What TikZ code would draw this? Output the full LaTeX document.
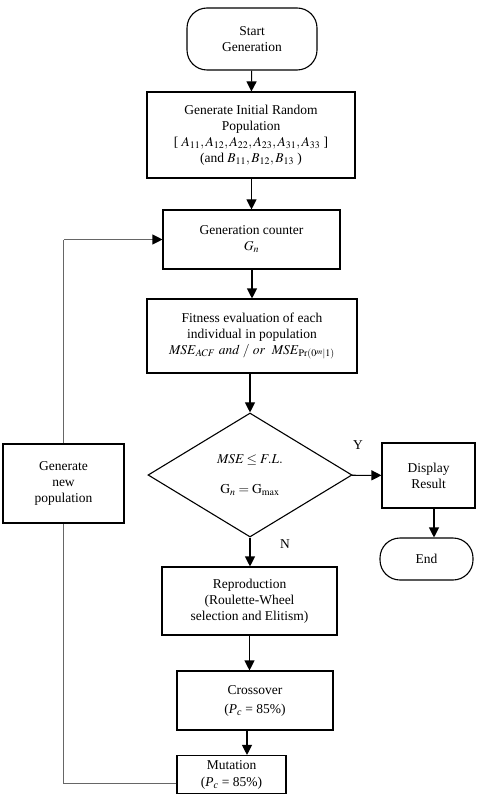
\documentclass[tikz,border=0pt]{standalone}
\usepackage{mathptmx}
\usepackage{fontspec}
\setmainfont{Liberation Serif}
\usetikzlibrary{shapes.geometric, arrows.meta}

\begin{document}
\begin{tikzpicture}[
  x=1pt, y=-1pt,
  every node/.style={align=center, inner sep=0pt, font=\fontsize{13.5}{16}\selectfont},
  box/.style={draw, rectangle, line width=1.1pt},
  term/.style={draw, rectangle, rounded corners=20pt, line width=1.1pt},
  cond/.style={draw, diamond, line width=1.1pt},
  arrow/.style={-{Triangle[length=10pt, width=10pt]}, line width=1.1pt},
  back/.style={line width=1.1pt, draw=black!60}
]
\useasboundingbox (0,0) rectangle (480,810);
\node[term, minimum width=130pt, minimum height=62pt] (start) at (252,39) {Start\\Generation};
\node[box, minimum width=208pt, minimum height=86pt] (init) at (251,135) {Generate Initial Random\\Population\\{[} $A_{11}, A_{12}, A_{22}, A_{23}, A_{31}, A_{33}$ {]}\\(and $B_{11}, B_{12}, B_{13}$ )};
\node[box, minimum width=177pt, minimum height=59pt] (gen) at (251.5,239.5) {Generation counter\\$G_n$};
\node[box, minimum width=210pt, minimum height=74pt] (fit) at (252,336) {Fitness evaluation of each\\individual in population\\$\mathit{MSE}_{ACF}\ \mathit{and}\ /\ \mathit{or}\ \ \mathit{MSE}_{\mathrm{Pr}(0^{m}|1)}$};
\node[cond, minimum width=204pt, minimum height=124pt] (dec) at (250,475) {$\mathit{MSE} \le F.L.$\\[14pt]$\mathrm{G}_n = \mathrm{G}_{\max}$};
\node[box, minimum width=93pt, minimum height=65pt] (disp) at (428.5,475.5) {Display\\Result};
\node[term, minimum width=93pt, minimum height=42pt] (end) at (426.5,559) {End};
\node[box, minimum width=175pt, minimum height=68pt] (repr) at (249.5,601) {Reproduction\\(Roulette-Wheel\\selection and Elitism)};
\node[box, minimum width=156pt, minimum height=59pt] (cross) at (255,700.5) {Crossover\\[3pt] (\textit{P}\textsubscript{\textit{c}} = 85\%)};
\node[box, minimum width=109pt, minimum height=38pt] (mut) at (231.5,774.5) {Mutation\\[1pt](\textit{P}\textsubscript{\textit{c}} = 85\%)};
\node[box, fill=white, minimum width=121pt, minimum height=79pt] (newpop) at (63.5,483.5) {Generate\\new\\population};
\node (yes) at (358,445) {Y};
\node (no) at (285,544) {N};
\draw[arrow] (start) -- (init);
\draw[arrow] (init.south -| gen) -- (gen);
\draw[arrow] (gen.south -| fit) -- (fit);
\draw[arrow] (fit.south -| dec) -- (dec);
\draw[arrow] (dec) -- (disp);
\draw[arrow] (disp.south -| 434,0) -- (end.north -| 434,0);
\draw[arrow] (dec.south) -- (dec.south |- repr.north);
\draw[arrow] (repr.south) -- (repr.south |- cross.north);
\draw[arrow] ([xshift=-8pt]cross.south) -- ([xshift=-8pt]cross.south |- mut.north);
\draw[back] ([yshift=-9pt]mut.west) -- ([yshift=-9pt]newpop.south |- mut.west) -- (newpop.south);
\draw[back] (newpop.north) -- (newpop.north |- gen.west);
\draw[back, -{Triangle[length=10pt, width=10pt, black]}] (newpop.north |- gen.west) -- (gen.west);
\end{tikzpicture}
\end{document}
